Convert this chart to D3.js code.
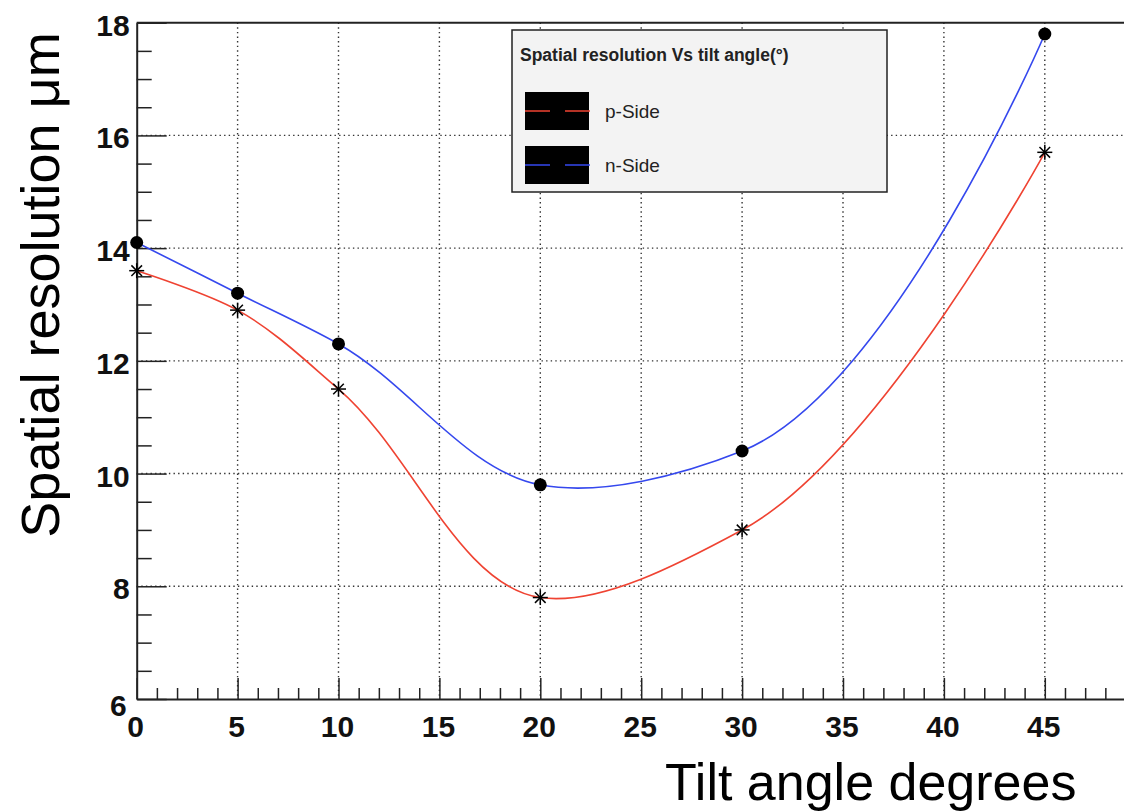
<!DOCTYPE html>
<html>
<head>
<meta charset="utf-8">
<script src="https://cdn.jsdelivr.net/npm/d3@7"></script>
<style>
  body { margin: 0; background: #fff; }
  svg { display: block; font-family: "Liberation Sans", Arial, sans-serif; }
</style>
</head>
<body>
<div id="chart"></div>
<script>
// DATA
let tilt_angles = [0, 5, 10, 20, 30, 45];
let p_side = [13.6, 12.9, 11.5, 7.8, 9.0, 15.7];
let n_side = [14.1, 13.2, 12.3, 9.8, 10.4, 17.8];

let x_major = [0, 5, 10, 15, 20, 25, 30, 35, 40, 45];
let y_major = [6, 8, 10, 12, 14, 16, 18];

let legend_title = "Spatial resolution Vs tilt angle(°)";
let series_names = ["p-Side", "n-Side"];

// CHART AREA
let width = 1124, height = 811;
let margin = {top: 22.7, left: 136.7, bottom: 699};

let svg = d3.select("#chart").append("svg")
    .attr("width", width)
    .attr("height", height);

// SCALES
let x = d3.scaleLinear().domain([0, 49]).range([margin.left, margin.left + 49 * 20.18]);
let y = d3.scaleLinear().domain([6, 18]).range([margin.bottom, margin.top]);

// GRID (dotted)
let grid = svg.append("g").attr("class", "grid")
    .attr("stroke", "#333").attr("stroke-width", 1.4).attr("stroke-dasharray", "1.4,3.2");

grid.selectAll(".vgrid").data(x_major.filter(d => d > 0))
    .enter().append("line")
    .attr("x1", d => x(d)).attr("x2", d => x(d))
    .attr("y1", y(18)).attr("y2", y(6));

grid.selectAll(".hgrid").data(y_major.filter(d => d > 6 && d < 18))
    .enter().append("line")
    .attr("x1", x(0)).attr("x2", width)
    .attr("y1", d => y(d)).attr("y2", d => y(d));

// AXES
let axisColor = "#222";

let xAxis = d3.axisBottom(x)
    .tickValues(d3.range(0, 49, 1))
    .tickSizeOuter(0)
    .tickFormat("");
let xAxisGroup = svg.append("g")
    .attr("transform", "translate(0," + y(6) + ")")
    .call(xAxis);
xAxisGroup.select(".domain").attr("stroke", axisColor).attr("stroke-width", 2);
xAxisGroup.selectAll(".tick line")
    .attr("stroke", axisColor).attr("stroke-width", 1.5)
    .attr("y2", d => d % 5 === 0 ? -21 : -11);

xAxisGroup.selectAll(".xlabel").data(x_major)
    .enter().append("text")
    .attr("x", d => x(d) - 1)
    .attr("y", 38)
    .attr("text-anchor", "middle")
    .attr("font-size", 30).attr("font-weight", "bold").attr("fill", "#111")
    .text(d => d);

let yAxis = d3.axisLeft(y)
    .tickValues(d3.range(6, 18.01, 0.5))
    .tickSizeOuter(0)
    .tickFormat("");
let yAxisGroup = svg.append("g")
    .attr("transform", "translate(" + x(0) + ",0)")
    .call(yAxis);
yAxisGroup.select(".domain").attr("stroke", axisColor).attr("stroke-width", 2);
yAxisGroup.selectAll(".tick line")
    .attr("stroke", axisColor).attr("stroke-width", 1.5)
    .attr("x2", d => d % 2 === 0 ? 30 : 15);

yAxisGroup.selectAll(".ylabel").data(y_major)
    .enter().append("text")
    .attr("x", d => d === 6 ? -10 : -7)
    .attr("y", d => y(d) + (d === 6 ? 17 : 13))
    .attr("text-anchor", "end")
    .attr("font-size", 30).attr("font-weight", "bold").attr("fill", "#111")
    .text(d => d);

// top frame
svg.append("line")
    .attr("x1", x(0)).attr("x2", width)
    .attr("y1", y(18)).attr("y2", y(18))
    .attr("stroke", axisColor).attr("stroke-width", 2);

// AXIS TITLES
svg.append("text")
    .attr("transform", "translate(59," + 285 + ") rotate(-90)")
    .attr("text-anchor", "middle")
    .attr("font-size", 54).attr("fill", "#000")
    .text("Spatial resolution μm");

svg.append("text")
    .attr("x", 665).attr("y", 800)
    .attr("font-size", 52).attr("fill", "#000")
    .text("Tilt angle degrees");

// LEGEND
let legend = svg.append("g").attr("transform", "translate(512,30)");
legend.append("rect")
    .attr("width", 375).attr("height", 162)
    .attr("fill", "#f3f3f3").attr("stroke", "#222").attr("stroke-width", 1.5);
legend.append("text")
    .attr("x", 8).attr("y", 31)
    .attr("font-size", 17.5).attr("font-weight", "bold").attr("fill", "#222")
    .text(legend_title);

let colors = ["#ef4332", "#3548ee"];
series_names.forEach((name, i) => {
    let row = legend.append("g").attr("transform", "translate(13," + (62 + i * 54) + ")");
    row.append("rect").attr("width", 64).attr("height", 38).attr("fill", "#000");
    row.append("line")
        .attr("x1", 0).attr("x2", 67).attr("y1", 19).attr("y2", 19)
        .attr("stroke", colors[i]).attr("stroke-width", 1.6)
        .attr("stroke-dasharray", "25,15");
    row.append("text")
        .attr("x", 80).attr("y", 26)
        .attr("font-size", 19).attr("fill", "#222")
        .text(name);
});

// CURVES
let line = d3.line()
    .x(d => x(d[0]))
    .y(d => y(d[1]))
    .curve(d3.curveCatmullRom.alpha(1));

let p_points = tilt_angles.map((a, i) => [a, p_side[i]]);
let n_points = tilt_angles.map((a, i) => [a, n_side[i]]);

svg.append("path").datum(p_points)
    .attr("d", line).attr("fill", "none")
    .attr("stroke", colors[0]).attr("stroke-width", 1.6);
svg.append("path").datum(n_points)
    .attr("d", line).attr("fill", "none")
    .attr("stroke", colors[1]).attr("stroke-width", 1.6);

// MARKERS
// p-side: asterisks
let stars = svg.selectAll(".star").data(p_points)
    .enter().append("g")
    .attr("class", "star")
    .attr("transform", d => "translate(" + x(d[0]) + "," + y(d[1]) + ")");
[0, 45, 90, 135].forEach(angle => {
    stars.append("line")
        .attr("x1", -7.5).attr("x2", 7.5).attr("y1", 0).attr("y2", 0)
        .attr("transform", "rotate(" + angle + ")")
        .attr("stroke", "#000").attr("stroke-width", 1.5);
});

// n-side: filled circles
svg.selectAll(".dot").data(n_points)
    .enter().append("circle")
    .attr("class", "dot")
    .attr("cx", d => x(d[0]))
    .attr("cy", d => y(d[1]))
    .attr("r", 6.5)
    .attr("fill", "#000");
</script>
</body>
</html>
